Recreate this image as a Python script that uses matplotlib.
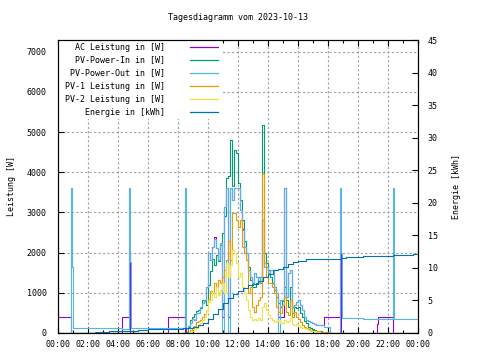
import numpy as np
import matplotlib
matplotlib.use('Agg')
import matplotlib.pyplot as plt
from matplotlib.patches import Rectangle

plt.rcParams['font.family'] = 'DejaVu Sans Mono'
plt.rcParams['font.size'] = 6


def hours(tt):
    return [int(t[:2]) + int(t[3:]) / 60.0 for t in tt]


# daytime samples every 8 minutes, 08:32 .. 18:00
day_t = list(np.arange(512, 1081, 8) / 60.0)

pv_in_day = [30, 150, 320, 400, 480, 540, 570, 620,
             820, 800, 700, 1200, 1550, 1850, 1700, 1950,
             1800, 2200, 2500, 2900, 3850, 3900, 4800, 3650,
             4550, 4470, 3720, 3300, 2800, 2300, 2000, 1650,
             1320, 1150, 1150, 1250, 1400, 1250, 5170, 2000,
             1730, 1570, 1400, 1240, 1070, 900, 740, 650,
             800, 1150, 820, 650, 1150, 490, 650, 620,
             650, 490, 400, 300, 240, 160, 130, 100,
             80, 60, 50, 40, 30, 20, 10, 0]

pv_out_day = [115, 180, 240, 360, 330, 490, 500, 650,
              740, 820, 1150, 1980, 1820, 2150, 2330, 2110,
              1820, 2230, 0, 3140, 3600, 0, 3600, 3300,
              3600, 3600, 3600, 3060, 2560, 2150, 1980, 1570,
              1400, 1240, 1490, 1400, 1240, 1400, 2800, 1650,
              1650, 1490, 1570, 1570, 1150, 1000, 0, 820,
              820, 3600, 900, 1490, 1570, 650, 700, 780,
              820, 700, 570, 400, 320, 300, 280, 240,
              220, 200, 200, 200, 200, 160, 160, 160]

ac_day = [115, 180, 240, 360, 330, 490, 500, 650,
          740, 820, 1150, 1980, 1820, 2150, 2400, 2110,
          1820, 2230, 400, 3140, 3600, 400, 3600, 3300,
          3600, 3600, 3600, 3060, 2600, 2150, 1980, 1570,
          1400, 1240, 1490, 1400, 1240, 1400, 2800, 1650,
          1650, 1490, 1570, 1570, 1150, 1000, 400, 400,
          400, 3600, 900, 1490, 1570, 650, 700, 780,
          820, 700, 570, 400, 320, 300, 280, 240,
          220, 200, 200, 200, 200, 405, 405, 405]

pv1_day = [0, 10, 80, 130, 180, 280, 300, 330,
           400, 480, 570, 850, 1050, 1000, 1240, 1150,
           1320, 1250, 1400, 1570, 1820, 2300, 1820, 2980,
           2980, 2800, 2640, 2810, 2150, 1980, 1820, 990,
           1150, 650, 530, 700, 820, 900, 3950, 1730,
           1400, 1240, 1240, 1150, 1000, 650, 530, 490,
           700, 900, 530, 450, 820, 400, 530, 400,
           350, 280, 200, 160, 120, 100, 80, 60,
           50, 50, 40, 30, 30, 20, 20, 20]

pv2_day = [0, 0, 20, 40, 90, 130, 180, 240,
           320, 400, 570, 780, 820, 1030, 900, 1150,
           950, 1070, 1240, 1000, 1730, 1400, 1700, 2060,
           1980, 1730, 1400, 1500, 1150, 990, 820, 570,
           400, 320, 350, 320, 370, 320, 650, 740,
           570, 450, 370, 320, 280, 300, 320, 260,
           240, 320, 280, 300, 370, 230, 200, 220,
           200, 160, 130, 120, 90, 80, 60, 50,
           40, 30, 20, 10, 0, 0, 0, 0]

# night parts (before 08:32 / after 18:00)
ac_t1 = ["00:00", "00:52", "04:16", "04:44", "04:48", "07:20", "08:28"]
ac_v1 = [405, 0, 405, 2000, 0, 405, 0]
ac_t2 = ["18:48", "18:52", "21:16", "21:20", "22:20", "24:00"]
ac_v2 = [2000, 0, 225, 405, 0, 0]

out_t1 = ["00:00", "00:52", "00:56", "01:00", "04:16", "04:44", "04:48",
          "04:52", "08:28"]
out_v1 = [0, 3600, 1650, 115, 90, 3600, 1770, 115, 3600]
out_t2 = ["18:08", "18:48", "18:52", "18:56", "20:20", "22:20", "22:24",
          "24:00"]
out_v2 = [0, 3600, 2000, 380, 350, 3600, 350, 350]

zero_t1 = ["00:00"]
zero_v1 = [0]
zero_t2 = ["18:04", "24:00"]
zero_v2 = [0, 0]

energy_t = ["00:56", "02:28", "03:24", "05:20", "06:00", "07:28", "08:20",
            "08:40", "09:00", "09:20", "09:40", "10:00", "10:20", "10:40",
            "11:00", "11:20", "11:40", "12:00", "12:20", "12:40", "13:00",
            "13:20", "13:40", "14:00", "14:20", "14:40", "15:00", "15:20",
            "15:40", "16:00", "16:30", "17:00", "18:00", "18:52", "19:12",
            "20:20", "22:20", "23:40", "24:00"]
energy_v = [0.05, 0.2, 0.35, 0.5, 0.6, 0.65, 0.7,
            0.75, 0.9, 1.2, 1.5, 2.2, 2.9, 3.7,
            4.6, 5.3, 6.0, 6.5, 6.9, 7.3, 7.6,
            8.0, 8.6, 9.1, 9.6, 9.9, 10.2, 10.6,
            10.9, 11.1, 11.3, 11.3, 11.3, 11.5, 11.6,
            11.8, 12.0, 12.1, 12.1]

labels = ['AC Leistung in [W]', 'PV-Power-In in [W]', 'PV-Power-Out in [W]',
          'PV-1 Leistung in [W]', 'PV-2 Leistung in [W]', 'Energie in [kWh]']
colors = ['#9400d3', '#009e73', '#56b4e9', '#e69f00', '#f0e442', '#0072b2']

series = [
    (hours(ac_t1) + day_t + hours(ac_t2), ac_v1 + ac_day + ac_v2),
    (hours(zero_t1) + day_t + hours(zero_t2), zero_v1 + pv_in_day + zero_v2),
    (hours(out_t1) + day_t + hours(out_t2), out_v1 + pv_out_day + out_v2),
    (hours(zero_t1) + day_t + hours(zero_t2), zero_v1 + pv1_day + zero_v2),
    (hours(zero_t1) + day_t + hours(zero_t2), zero_v1 + pv2_day + zero_v2),
]

fig = plt.figure(figsize=(4.8, 3.6), dpi=100)
ax = fig.add_axes([58 / 480, 27 / 360, 360 / 480, 293 / 360])
ax2 = ax.twinx()

for (t, v), c in zip(series, colors[:5]):
    ax.plot(t, v, drawstyle='steps-post', color=c, lw=0.8)
ax2.plot(hours(energy_t), energy_v, drawstyle='steps-post', color=colors[5], lw=0.8)

ax.set_xlim(0, 24)
ax.set_ylim(0, 7290)
ax2.set_ylim(0, 45)

ax.set_xticks(range(0, 25, 2))
ax.set_xticklabels(['%02d:00' % (h % 24) for h in range(0, 25, 2)])
ax.set_xticks(range(0, 25, 1), minor=True)
ax.set_yticks(range(0, 7001, 1000))
ax2.set_yticks(range(0, 46, 5))

ax.tick_params(axis='x', which='both', direction='in', top=True, pad=5)
ax.tick_params(axis='x', which='major', length=4, width=0.8)
ax.tick_params(axis='x', which='minor', length=2, width=0.8)
ax.tick_params(axis='y', direction='in', length=4, width=0.8, pad=8)
ax2.tick_params(axis='y', direction='in', length=4, width=0.8, pad=7)

ax.set_axisbelow(True)
ax.grid(True, which='major', color='#a0a0a0', linestyle=(0, (2, 2)), lw=0.8)

ax.set_ylabel('Leistung [W]')
ax.yaxis.set_label_coords(-0.118, 0.5)
ax2.set_ylabel('Energie [kWh]')
ax2.yaxis.set_label_coords(1.095, 0.5)

fig.text(0.4958, 0.95, 'Tagesdiagramm vom 2023-10-13', ha='center', va='center')

# key box, like gnuplot's opaque key
ax.add_patch(Rectangle((0, 0.73), 0.456, 0.27, transform=ax.transAxes,
                       facecolor='white', edgecolor='none', zorder=1))
ky = [0.975, 0.932, 0.887, 0.843, 0.798, 0.754]
for y, lab, c in zip(ky, labels, colors):
    ax.text(0.297, y, lab, transform=ax.transAxes, ha='right', va='center')
    ax.plot([0.367, 0.444], [y, y], transform=ax.transAxes, color=c, lw=0.9)

fig.savefig('out.png', dpi=100)
